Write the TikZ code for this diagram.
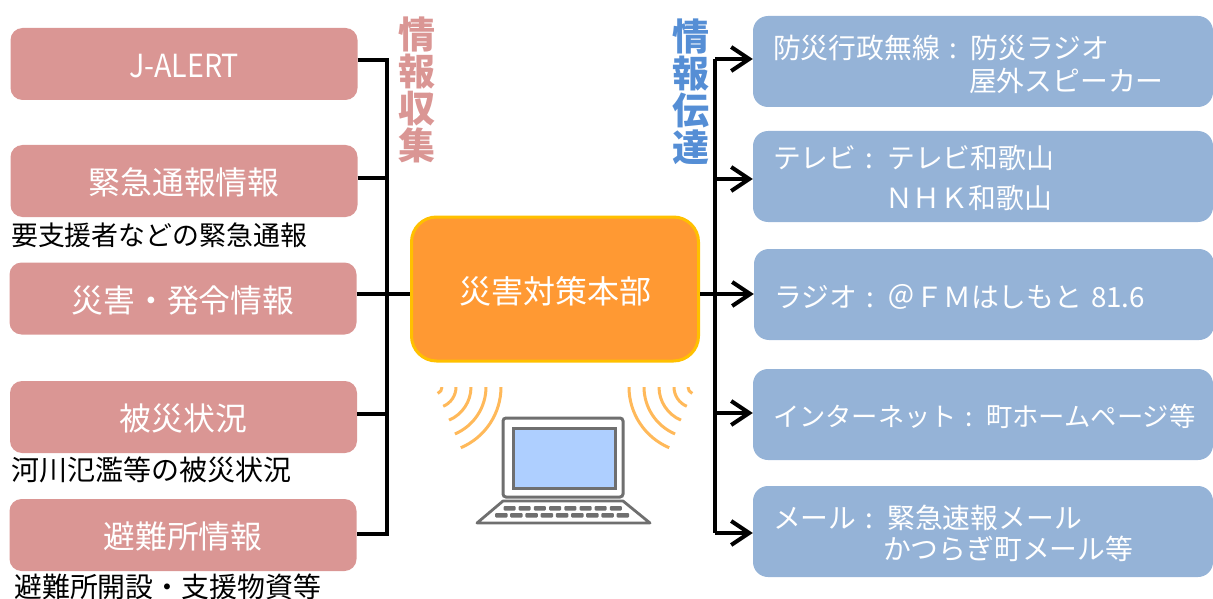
\documentclass[tikz,border=0pt]{standalone}
\usepackage{fontspec}
\setmainfont{Noto Sans CJK JP}
\usepackage{xcolor}
\usetikzlibrary{arrows.meta}
\definecolor{inpink}{HTML}{DA9694}
\definecolor{outblue}{HTML}{95B3D7}
\definecolor{headblue}{HTML}{558ED5}
\definecolor{hqorange}{HTML}{FF9933}
\definecolor{hqgold}{HTML}{FFC000}
\definecolor{wavegold}{HTML}{FFB95A}
\definecolor{pcgray}{HTML}{6F6F6F}
\definecolor{pcscreen}{HTML}{AECFFF}
\tikzstyle{inbox} = [rectangle, fill=inpink, rounded corners=12pt, text=white, minimum width=347pt, minimum height=72pt, inner sep=0pt, text height=30pt, text depth=2.7pt, font=\fontsize{31.8}{33}\selectfont]
\tikzstyle{outbox} = [rectangle, fill=outblue, rounded corners=15pt, text=white, minimum height=91pt, text width=420pt, inner xsep=20pt, inner ysep=0pt, align=left, font=\fontsize{27.8}{33}\selectfont]
\tikzstyle{note} = [inner sep=0pt, anchor=west, font=\fontsize{26.9}{28}\selectfont]
\tikzstyle{head} = [inner sep=0pt, align=center, font=\fontsize{37}{37}\selectfont\bfseries]
\tikzstyle{wire} = [draw, line width=3.4pt]
\tikzstyle{line} = [draw, line width=3.4pt, -{Straight Barb[length=18pt,width=24pt,line width=4pt]}]
\tikzstyle{wave} = [draw=wavegold, line width=3pt]
\tikzstyle{key} = [fill=pcgray, rounded corners=1pt]
\newcommand{\nudge}[1]{\rule{0pt}{#1pt}}
\begin{document}
\begin{tikzpicture}[x=1pt,y=-1pt]
\useasboundingbox (0,0) rectangle (1213,599);
% collecting side
\node [inbox] (alert) at (184,64) {\addfontfeature{FakeStretch=0.9}J-ALERT};
\node [inbox] (urgent) at (184,181) {緊急通報情報};
\node [inbox] (order) at (183,298.5) {災害・発令情報};
\node [inbox] (damage) at (183.5,417) {被災状況};
\node [inbox] (shelter) at (183,535) {避難所情報};
\node [note] (urgent-note) at (11,235) {要支援者などの緊急通報};
\node [note, font=\fontsize{28}{28}\selectfont] (damage-note) at (11,470) {河川氾濫等の被災状況};
\node [note, font=\fontsize{27.9}{28}\selectfont] (shelter-note) at (14,587) {避難所開設・支援物資等};
\node [head, text=inpink] (in-head) at (417,90) {情\\報\\収\\集};
% headquarters
\node [rectangle, draw=hqgold, line width=3pt, fill=hqorange, rounded corners=25pt, text=white, minimum width=287pt, minimum height=144pt, text height=31pt, text depth=2.7pt, font=\fontsize{32}{33}\selectfont] (hq) at (555,289) {災害対策本部};
% sending side
\node [outbox] (wireless) at (983,61.5) {\nudge{29}防災行政無線 : 防災ラジオ\\\hspace*{196pt}屋外スピーカー};
\node [outbox] (tv) at (983,176.5) {\nudge{27}テレビ : テレビ和歌山\\[7pt]\hspace*{112pt}ＮＨＫ和歌山};
\node [outbox] (radio) at (984,294.5) {\nudge{27}ラジオ : ＠ＦＭはしもと 81.6};
\node [outbox, font=\fontsize{26.3}{33}\selectfont] (web) at (983,414.5) {\nudge{27}\mbox{インターネット : 町ホームページ等}};
\node [outbox] (mail) at (983,531.5) {\nudge{27}メール : 緊急速報メール\\[-2pt]\hspace*{110pt}かつらぎ町メール等};
\node [head, text=headblue] (out-head) at (691,92) {情\\報\\伝\\達};
% buses
\coordinate (in1) at (387,60);
\coordinate (in2) at (387,178);
\coordinate (in3) at (387,294);
\coordinate (in4) at (387,414);
\coordinate (in5) at (387,534);
\coordinate (out1) at (715,59);
\coordinate (out2) at (715,179);
\coordinate (out3) at (715,294);
\coordinate (out4) at (715,413);
\coordinate (out5) at (715,533);
\path [wire] (alert.east |- in1) -- (in1) -- (in5) -- (shelter.east |- in5);
\path [wire] (urgent.east |- in2) -- (in2);
\path [wire] (order.east |- in3) -- (hq.west |- in3);
\path [wire] (damage.east |- in4) -- (in4);
\path [line] (out1) -- (wireless.west |- out1);
\path [wire] (out1) -- (out5);
\path [line] (out2) -- (tv.west |- out2);
\path [line] (hq.east |- out3) -- (radio.west |- out3);
\path [line] (out4) -- (web.west |- out4);
\path [line] (out5) -- (mail.west |- out5);
% laptop and waves
\begin{scope}
\clip (425,387) rectangle (705,460);
\foreach \r in {66,51,36,21,7} {
  \path [wave] (435,387) ++(\r,0) arc [start angle=0, end angle=-67, radius=\r pt];
  \path [wave] (695,387) ++(-\r,0) arc [start angle=180, end angle=247, radius=\r pt];
}
\end{scope}
\draw [pcgray, line width=3pt, rounded corners=3pt] (503,418) rectangle (623,497);
\draw [pcgray, line width=3pt, fill=pcscreen] (513,428) rectangle (615,488);
\draw [pcgray, line width=2.8pt, line join=round] (503,501) -- (623,501) -- (650,523) -- (477,523) -- cycle;
\foreach \i in {0,...,7}
  \fill [key] (503.5+15.2*\i,506) rectangle ++(12,4.5);
\foreach \i in {0,...,8}
  \fill [key] (495+15.2*\i,513) rectangle ++(12.5,4.5);
\end{tikzpicture}
\end{document}
